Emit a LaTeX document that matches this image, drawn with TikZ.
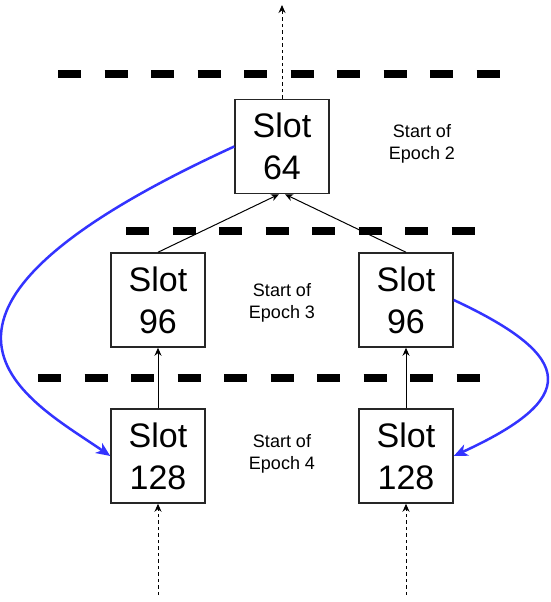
\documentclass[tikz,border=0pt]{standalone}
\usepackage{fontspec}
\setmainfont{Liberation Sans}
\usetikzlibrary{arrows.meta}
\definecolor{bluelink}{HTML}{3333FF}
\begin{document}
\begin{tikzpicture}[x=1pt,y=-1pt,
  slotbox/.style={draw=black!85,line width=1.5pt,minimum width=94pt,minimum height=94pt,inner sep=0pt,align=center,font=\fontsize{34}{42}\selectfont},
  epochlabel/.style={align=center,font=\fontsize{18}{22}\selectfont},
  boundary/.style={line width=8pt,dash pattern=on 23pt off 23.5pt,line cap=butt},
  parentlink/.style={line width=1pt,-{Stealth[length=8pt,width=7pt]}},
  chainlink/.style={line width=1pt,dash pattern=on 3.5pt off 3pt,-{Stealth[length=8pt,width=7pt]}},
  reorg/.style={line width=2.5pt,draw=bluelink,-{Stealth[length=14pt,width=12pt,inset=4pt]}}]
\useasboundingbox (0,0) rectangle (550,602);
% epoch boundaries
\draw[boundary] (58,74) -- (501,74);
\draw[boundary] (126,231) -- (476,231);
\draw[boundary] (38,378) -- (481,378);
% slots
\node[slotbox] (top) at (282,146.5) {Slot\\64};
\node[slotbox] (m1) at (158,300) {Slot\\96};
\node[slotbox] (m2) at (406,300) {Slot\\96};
\node[slotbox] (b1) at (158,456) {Slot\\128};
\node[slotbox] (b2) at (406,456) {Slot\\128};
% labels
\node[epochlabel] (e2) at (422,144) {Start of\\Epoch 2};
\node[epochlabel] (e3) at (282,303) {Start of\\Epoch 3};
\node[epochlabel] (e4) at (282,454) {Start of\\Epoch 4};
% chain continuation
\coordinate (upend) at (282,5);
\coordinate (low1) at (158,595);
\coordinate (low2) at (406,595);
\draw[chainlink] (top.north) -- (upend);
\draw[chainlink] (low1) -- (b1.south);
\draw[chainlink] (low2) -- (b2.south);
% parent links
\draw[parentlink] (m1.north) -- ([xshift=-3pt]top.south);
\draw[parentlink] (m2.north) -- ([xshift=3pt]top.south);
\draw[parentlink] (b1.north) -- (m1.south);
\draw[parentlink] (b2.north) -- (m2.south);
% blue curves
\draw[reorg] (top.west) .. controls (-140,318) and (31,401) .. (b1.west);
\draw[reorg] (m2.east) .. controls (578,358) and (578,399) .. (b2.east);
\end{tikzpicture}
\end{document}
